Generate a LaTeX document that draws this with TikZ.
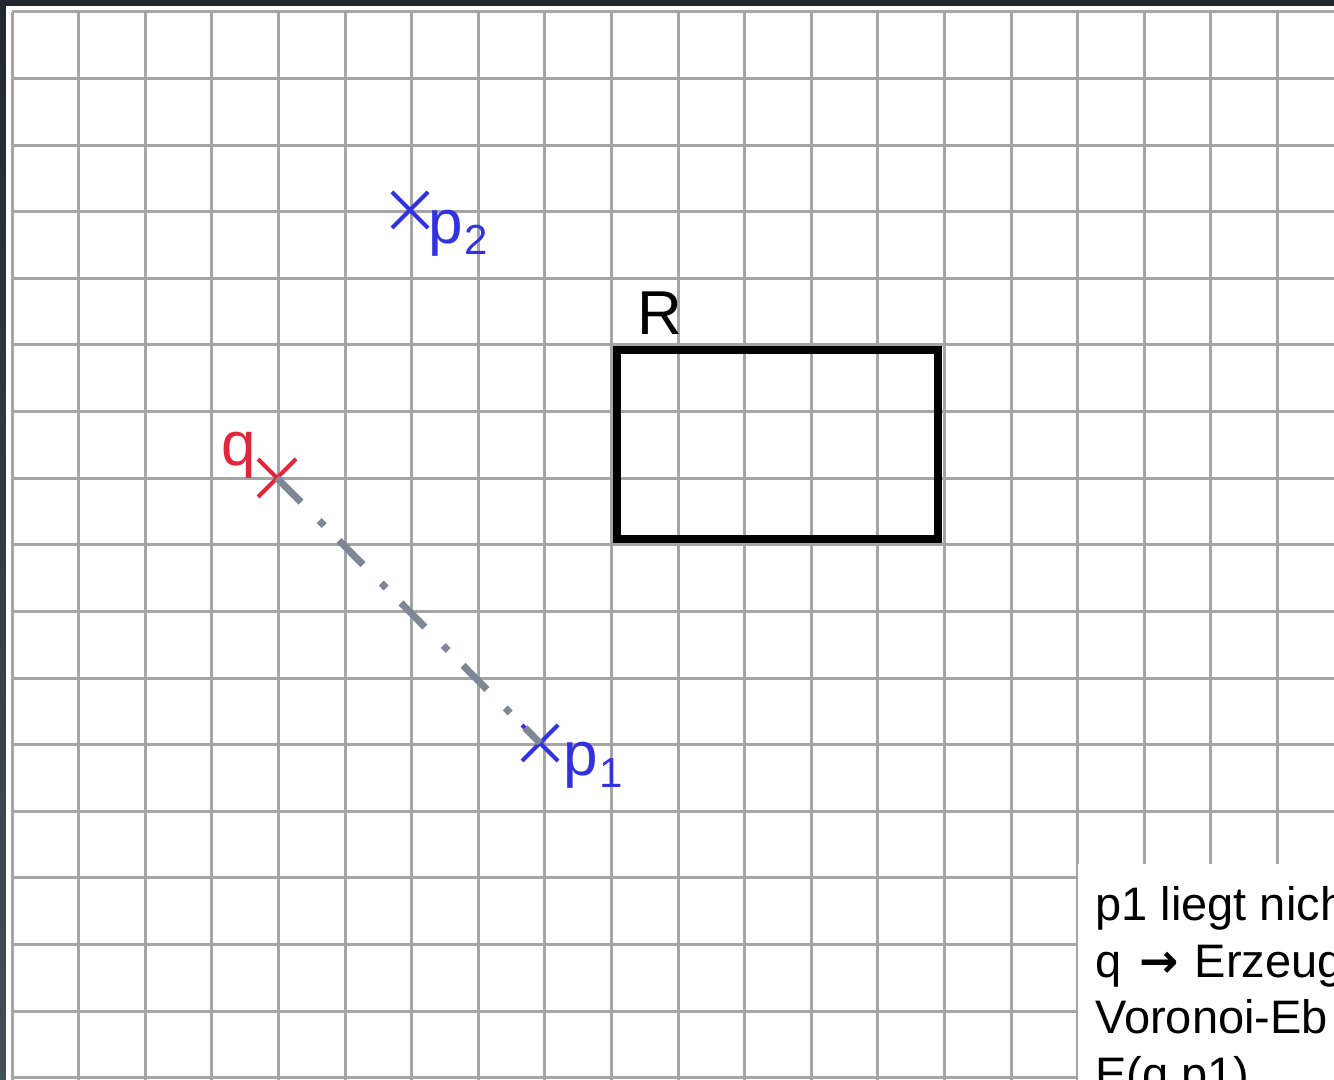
\documentclass[tikz,border=0pt]{standalone}
\usepackage{fontspec}
\setmainfont{Liberation Sans}
\newfontfamily\arrowfont{DejaVu Sans}[BoldFont={DejaVu Sans Bold}]
\usetikzlibrary{shapes.misc}
\definecolor{gridgray}{RGB}{165,165,165}
\definecolor{frametop}{RGB}{34,39,47}
\definecolor{framebot}{RGB}{66,80,90}
\definecolor{qred}{RGB}{228,36,58}
\definecolor{pblue}{RGB}{50,50,225}
\definecolor{slate}{RGB}{125,135,150}
\begin{document}
\begin{tikzpicture}[x=0.5pt,y=-0.5pt,
  gridline/.style={draw=gridgray,line width=1.5pt},
  crossmark/.style={cross out,draw,line width=2pt,minimum size=16pt,inner sep=0pt},
  ptlabel/.style={font=\fontsize{31pt}{36pt}\selectfont,inner sep=0pt},
  boxtext/.style={font=\fontsize{23.5pt}{28pt}\selectfont,inner sep=0pt,anchor=base west},
  regionbox/.style={draw=black,line width=4pt},
  distline/.style={draw=slate,line width=3.5pt,dash pattern=on 17pt off 13pt on 3.5pt off 10.5pt}]
\useasboundingbox (0,0) rectangle (1334,1080);
\clip (0,0) rectangle (1334,1080);
% frame and paper
\shade[top color=frametop,bottom color=framebot] (0,0) rectangle (1334,1080);
\fill[white] (6,6) rectangle (1334,1080);
% grid
\foreach \i in {0,...,19} \draw[gridline] ({12+66.6*\i},12) -- ({12+66.6*\i},1080);
\foreach \j in {0,...,16} \draw[gridline] (12,{12+66.6*\j}) -- (1334,{12+66.6*\j});
% region R
\draw[regionbox] (617,350) rectangle (938,539);
\node[ptlabel,anchor=base west] (Rlab) at (637,335) {R};
% points
\node[crossmark,draw=qred,minimum size=17pt] (q) at (277,478) {};
\node[crossmark,draw=pblue] (p1) at (540,743) {};
\node[crossmark,draw=pblue] (p2) at (410,210) {};
\node[ptlabel,text=qred,anchor=base east] (qlab) at (256,466) {q};
\node[ptlabel,text=pblue,anchor=base west] (p1lab) at (563,775) {p{\fontsize{21pt}{24pt}\selectfont\raisebox{-6pt}{\kern1pt 1}}};
\node[ptlabel,text=pblue,anchor=base west] (p2lab) at (428,244) {p{\fontsize{21pt}{24pt}\selectfont\raisebox{-5.5pt}{\kern1pt 2}}};
% distance q - p1
\draw[distline] (q.center) -- (p1.center);
% text box
\fill[white] (1078,864) rectangle (1334,1080);
\node[boxtext] (t1) at (1095,920) {p1 liegt nich};
\node[boxtext] (t2) at (1095,977) {q\hspace{9pt}{\arrowfont\bfseries →}\hspace{8pt}Erzeug};
\node[boxtext] (t3) at (1095,1033) {Voronoi-Eb};
\node[boxtext] (t4) at (1095,1090) {E(q,p1)};
\end{tikzpicture}
\end{document}
